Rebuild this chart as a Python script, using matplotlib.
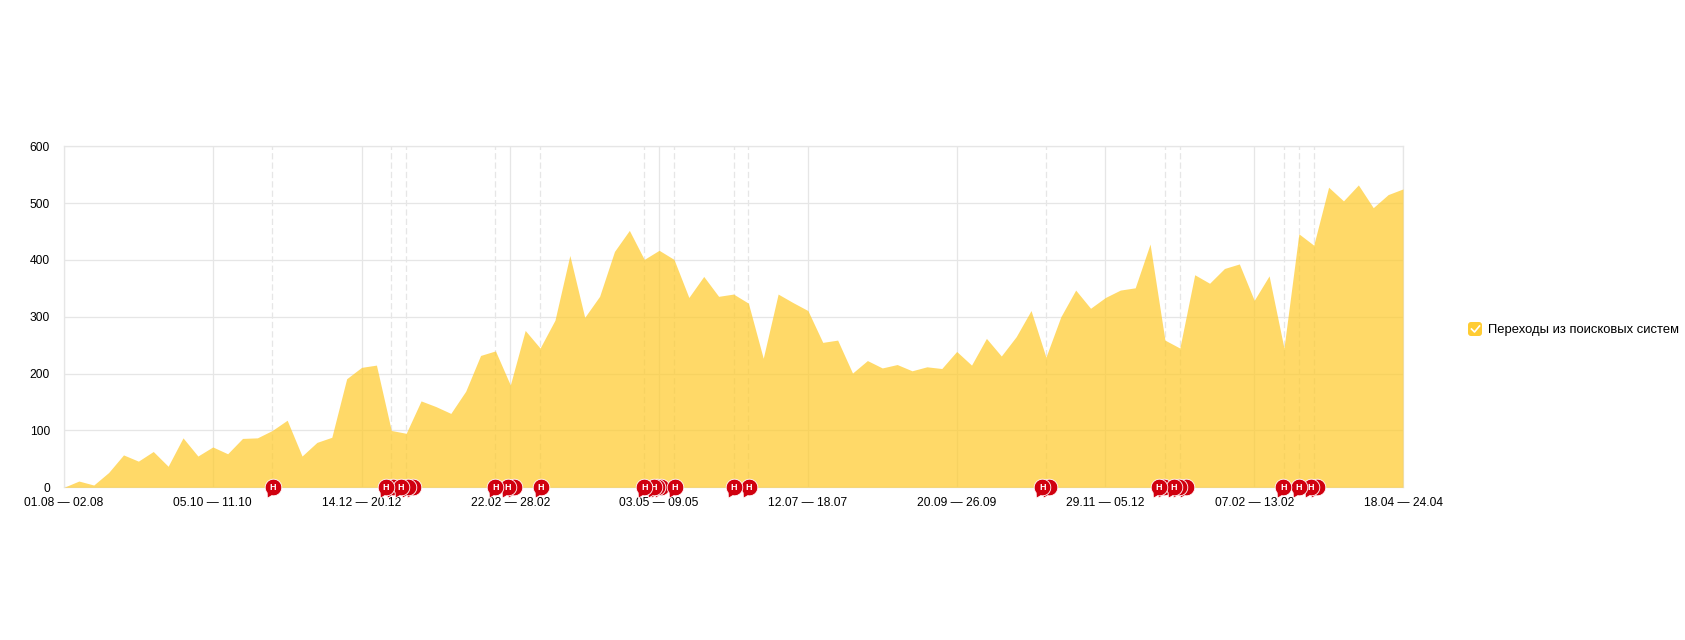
"""Weekly search traffic area chart with event flags along the baseline."""

import matplotlib

matplotlib.use("Agg")
import matplotlib.pyplot as plt
import numpy as np
from matplotlib.patches import FancyBboxPatch
from matplotlib.path import Path

plt.rcParams["font.family"] = ["Liberation Sans", "DejaVu Sans"]

visits = [
    0, 11, 4, 26, 57, 46, 63, 37, 87, 55,
    71, 59, 86, 87, 100, 118, 55, 79, 88, 191,
    211, 215, 100, 95, 152, 142, 130, 169, 232, 240,
    180, 276, 245, 294, 408, 299, 336, 415, 452, 401,
    417, 401, 334, 371, 336, 340, 324, 227, 340, 325,
    311, 255, 259, 201, 223, 210, 216, 205, 212, 209,
    239, 215, 262, 231, 265, 311, 229, 300, 347, 315,
    334, 347, 351, 428, 259, 245, 374, 359, 385, 393,
    329, 372, 245, 446, 426, 528, 504, 532, 492, 515,
    525,
]
week_ticks = [0, 10, 20, 30, 40, 50, 60, 70, 80, 90]
week_labels = [
    "01.08 — 02.08", "05.10 — 11.10", "14.12 — 20.12", "22.02 — 28.02",
    "03.05 — 09.05", "12.07 — 18.07", "20.09 — 26.09", "29.11 — 05.12",
    "07.02 — 13.02", "18.04 — 24.04",
]
y_ticks = [0, 100, 200, 300, 400, 500, 600]
event_weeks = [14, 22, 23, 29, 32, 39, 41, 45, 46, 66, 74, 75, 82, 83, 84]
# flags with a visible letter, and the ones stacked behind them (week units)
flag_weeks = [
    14.05, 21.64, 22.65, 29.0, 29.85, 32.05, 39.0, 39.65, 41.05, 45.0,
    46.05, 65.75, 73.6, 74.6, 81.95, 83.0, 83.8,
]
stacked_weeks = [
    22.1, 23.1, 23.45, 30.25, 39.85, 40.1, 66.2, 73.95, 74.95, 75.4, 84.25,
]
series_name = "Переходы из поисковых систем"

GRID = "#e6e6e6"
FILL = "#ffcb2e"
FLAG = "#d0000f"
DPI = 100
FLAG_RADIUS_PT = 8.3 * 72 / DPI


def flag_marker():
    """Round speech bubble with its tail pointing down and to the left."""
    arc = Path.arc(258, 220 + 360)
    verts = np.vstack([arc.vertices, [[-0.74, -1.3]], arc.vertices[:1]])
    codes = list(arc.codes) + [Path.LINETO, Path.CLOSEPOLY]
    return Path(verts, codes)


fig = plt.figure(figsize=(16.85, 6.4), dpi=DPI)
ax = fig.add_axes([64 / 1685, 1 - 487.3 / 640, 1339 / 1685, 341 / 640])

weeks = np.arange(len(visits))
ax.set_axisbelow(True)
ax.grid(True, color=GRID, linewidth=0.9)
for week in event_weeks:
    ax.axvline(week, color=GRID, linewidth=0.9, linestyle=(0, (5, 2.5)), zorder=0.5)
ax.fill_between(weeks, visits, 0, color=FILL, alpha=0.72, linewidth=0, zorder=2)

ax.set_xlim(0, 90)
ax.set_ylim(0, 600)
ax.set_xticks(week_ticks)
ax.set_xticklabels(week_labels)
ax.set_yticks(y_ticks)
ax.tick_params(axis="both", length=0, labelsize=8.64, colors="#000000")
ax.tick_params(axis="x", pad=7)
ax.tick_params(axis="y", pad=10)
for spine in ax.spines.values():
    spine.set_color(GRID)
    spine.set_linewidth(0.9)
    spine.set_zorder(1)

# later flags sit under earlier ones, so draw from right to left
marker_size = 2 * 1.3 * FLAG_RADIUS_PT
for week in sorted(stacked_weeks, reverse=True):
    ax.plot(week, 0, marker=flag_marker(), markersize=marker_size, color=FLAG,
            markeredgecolor="white", markeredgewidth=0.6, clip_on=False, zorder=3)
for order, week in enumerate(sorted(flag_weeks, reverse=True)):
    ax.plot(week, 0, marker=flag_marker(), markersize=marker_size, color=FLAG,
            markeredgecolor="white", markeredgewidth=0.6, clip_on=False,
            zorder=4 + order * 0.01)
    ax.text(week, 0, "H", color="white", fontsize=6.5, fontweight="bold",
            ha="center", va="center", clip_on=False, zorder=4.005 + order * 0.01)

# legend lives in a full-figure overlay measured in pixels
overlay = fig.add_axes([0, 0, 1, 1])
overlay.set_xlim(0, 1685)
overlay.set_ylim(640, 0)
overlay.axis("off")
overlay.add_patch(FancyBboxPatch((1470, 324), 10, 10, boxstyle="round,pad=2,rounding_size=3",
                                 facecolor="#ffcc33", edgecolor="none"))
overlay.plot([1471.5, 1474.5, 1479.5], [329, 332, 326], color="white", linewidth=1.2)
overlay.text(1487.5, 329.5, series_name, fontsize=9.36, color="#000000", va="center", ha="left")

fig.savefig("out.png", dpi=DPI)
plt.close(fig)
